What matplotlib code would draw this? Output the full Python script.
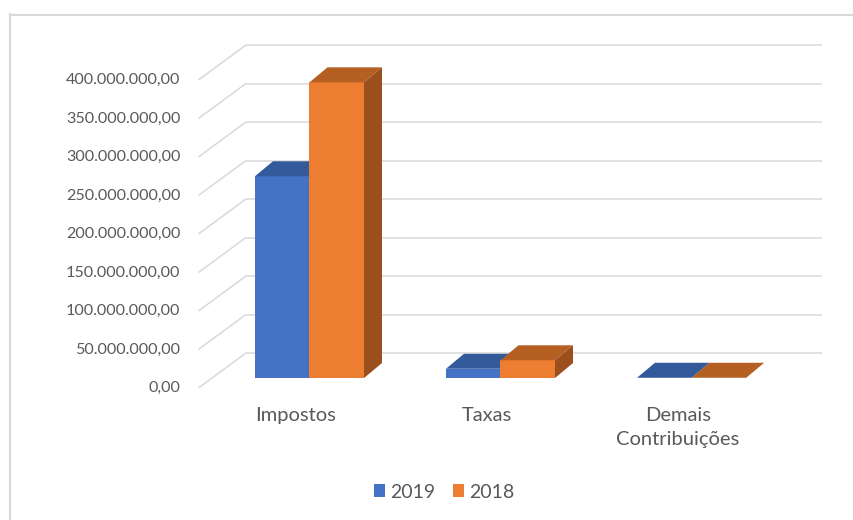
import matplotlib
matplotlib.use("Agg")
import matplotlib.pyplot as plt
from matplotlib.patches import Polygon, Patch
from matplotlib.lines import Line2D

# ---------------- data ----------------
categories = ["Impostos", "Taxas", "Demais\nContribuições"]
series_names = ["2019", "2018"]
values_2019 = [262_000_000, 12_000_000, 300_000]
values_2018 = [384_000_000, 23_000_000, 300_000]
y_ticks = [0, 50_000_000, 100_000_000, 150_000_000, 200_000_000,
           250_000_000, 300_000_000, 350_000_000, 400_000_000]
y_tick_labels = ["0,00", "50.000.000,00", "100.000.000,00", "150.000.000,00",
                 "200.000.000,00", "250.000.000,00", "300.000.000,00",
                 "350.000.000,00", "400.000.000,00"]

# ---------------- style / layout ----------------
W, H = 854, 520
FONT = ["Lato", "DejaVu Sans"]
TXT = "#595959"
GRID = "#d9d9d9"
FRONT = ["#4472C4", "#ED7D31"]
TOP = ["#335A9B", "#B65F23"]
SIDE = ["#2B4E8C", "#9A4F1C"]

PX_PER_CAT = 191.0
CAT0_PX = 309.5
BASE_PY = 378.0
PXY = 0.77e-6  # pixels per value unit

plt.rcParams["font.family"] = FONT
fig = plt.figure(figsize=(W / 100, H / 100), dpi=100)
ax = fig.add_axes([0, 0, 1, 1])
ax.set_xlim((0 - CAT0_PX) / PX_PER_CAT, (W - CAT0_PX) / PX_PER_CAT)
ax.set_ylim((BASE_PY - H) / PXY, BASE_PY / PXY)
ax.axis("off")


def dxp(px):
    return px / PX_PER_CAT


def dyp(px):
    return px / PXY


bar_w = dxp(54.5)
bar_dx, bar_dy = dxp(18), dyp(15)
back_dx, back_dy = dxp(34), dyp(25)
front_dx, front_dy = dxp(-13.6), dyp(-10)
x_left = (212 - CAT0_PX) / PX_PER_CAT
x_back_right = (822 - CAT0_PX) / PX_PER_CAT

# gridlines (back wall + side wall)
for v in y_ticks:
    ax.plot([x_left + back_dx, x_back_right], [v + back_dy, v + back_dy],
            color=GRID, lw=1.1, zorder=1, solid_capstyle="butt")
    ax.plot([x_left + front_dx, x_left + back_dx], [v + front_dy, v + back_dy],
            color=GRID, lw=1.1, zorder=1, solid_capstyle="butt")

# tick labels
for v, lab in zip(y_ticks, y_tick_labels):
    ax.text(x_left + front_dx - dxp(18), v + front_dy, lab, ha="right",
            va="center", fontsize=11.6, color=TXT)

# bars
series = [values_2019, values_2018]
z = 3
for i in range(len(categories)):
    for s, vals in enumerate(series):
        v = vals[i]
        x0 = i - bar_w + s * bar_w
        ax.bar(x0, v, width=bar_w, align="edge", color=FRONT[s], lw=0, zorder=z)
        ax.add_patch(Polygon([(x0, v), (x0 + bar_w, v),
                              (x0 + bar_w + bar_dx, v + bar_dy),
                              (x0 + bar_dx, v + bar_dy)],
                             closed=True, facecolor=TOP[s], lw=0, zorder=z))
        ax.add_patch(Polygon([(x0 + bar_w, 0), (x0 + bar_w + bar_dx, bar_dy),
                              (x0 + bar_w + bar_dx, v + bar_dy), (x0 + bar_w, v)],
                             closed=True, facecolor=SIDE[s], lw=0, zorder=z))
        z += 1

# category labels
for i, c in enumerate(categories):
    ax.text(i + front_dx, front_dy - dyp(19), c, ha="center", va="top",
            fontsize=14.5, color=TXT, linespacing=1.5)

# legend
handles = [Patch(facecolor=FRONT[0], edgecolor="none", label=series_names[0]),
           Patch(facecolor=FRONT[1], edgecolor="none", label=series_names[1])]
fig.legend(handles=handles, loc="center", bbox_to_anchor=(444 / W, 1 - 492 / H),
           ncol=2, frameon=False, handlelength=0.6, handleheight=0.6,
           handletextpad=0.25, columnspacing=0.9, fontsize=14,
           labelcolor=TXT)

# chart border
fig.add_artist(Line2D([10.5 / W, 10.5 / W], [0, 1 - 14 / H], color=GRID, lw=1.5,
                      transform=fig.transFigure))
fig.add_artist(Line2D([10 / W, 1], [1 - 14.5 / H, 1 - 14.5 / H], color=GRID, lw=1.5,
                      transform=fig.transFigure))

fig.savefig("out.png", dpi=100)
